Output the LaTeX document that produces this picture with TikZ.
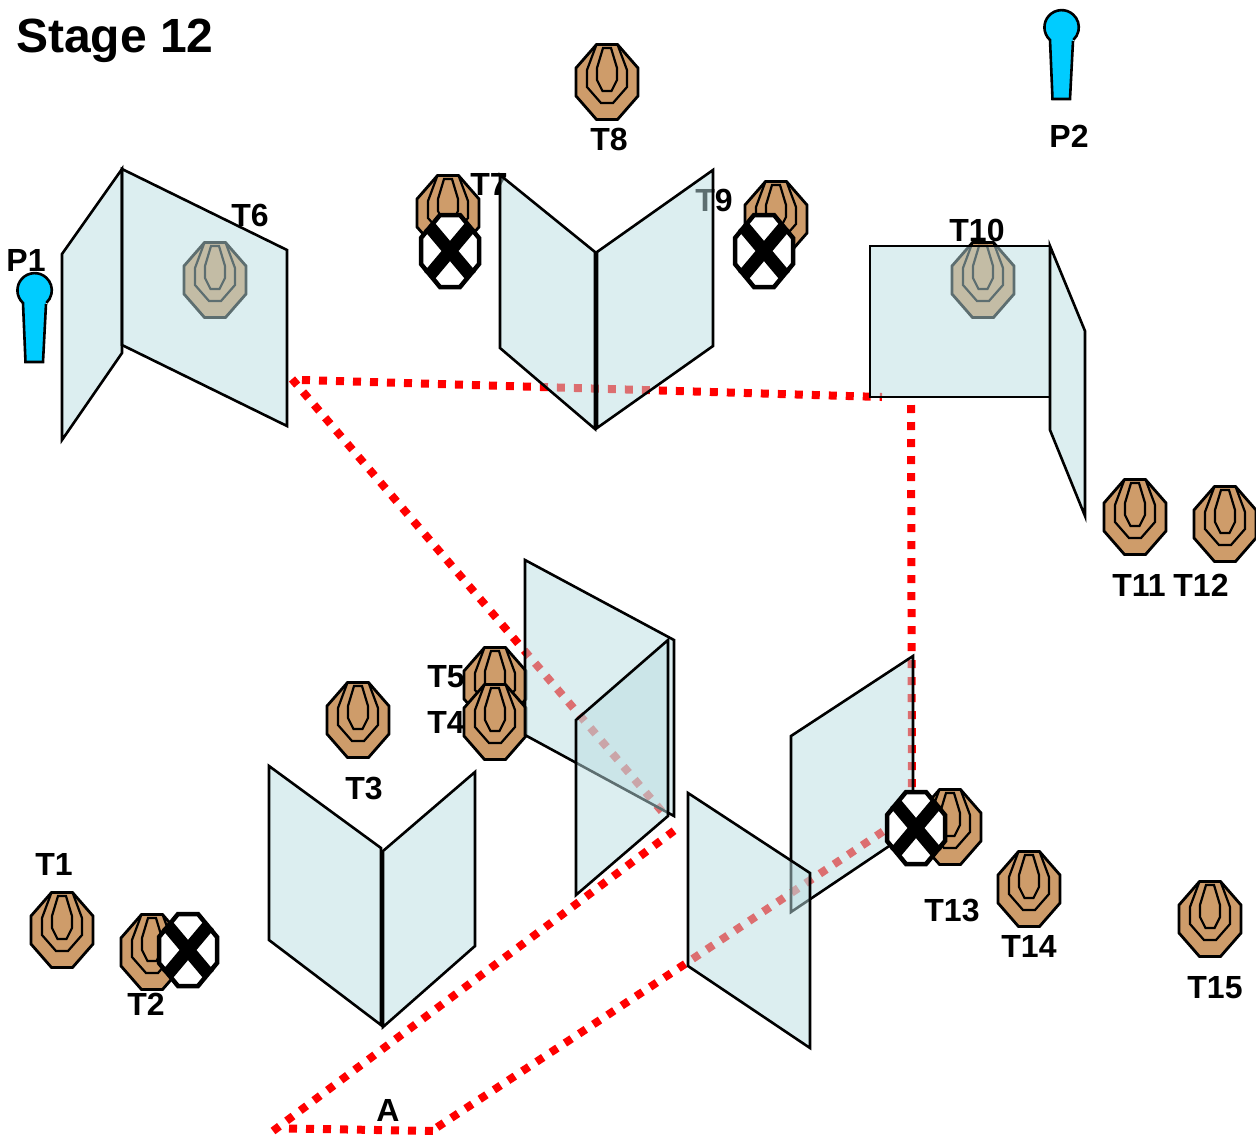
\documentclass[tikz,border=0pt]{standalone}
\usepackage{fontspec}
\setmainfont{Liberation Sans}
\definecolor{targetfill}{RGB}{206,156,106}
\definecolor{wallfill}{RGB}{186,221,225}
\definecolor{pawnfill}{RGB}{0,204,255}
\tikzset{
  lbl/.style={font=\fontsize{32}{32}\selectfont\bfseries, inner sep=0pt},
  title/.style={font=\fontsize{48}{48}\selectfont\bfseries, inner sep=0pt},
  wall/.style={draw=black, line width=2.6pt, line join=miter, fill=wallfill, fill opacity=0.5},
  route/.style={draw=red, line width=8pt, dash pattern=on 8pt off 9pt},
  target/.pic={
    \draw[line width=2.8pt, fill=targetfill] (-10.5,-37.5) -- (10.5,-37.5) -- (31,-14) -- (31,14) -- (10.5,37.5) -- (-10.5,37.5) -- (-31,14) -- (-31,-14) -- cycle;
    \draw[line width=2.2pt] (-10.5,-37.5) -- (-20,-12) -- (-20,5) -- (-6,21) -- (6,21) -- (20,5) -- (20,-12) -- (10.5,-37.5);
    \draw[line width=2.2pt] (-4,-34) -- (4,-34) -- (10,-14) -- (10,-2) -- (4.5,9) -- (-4.5,9) -- (-10,-2) -- (-10,-14) -- cycle;
  },
  noshoot/.pic={
    \draw[line width=4.5pt, fill=white] (-10,-36) -- (10,-36) -- (29,-13) -- (29,13) -- (10,36) -- (-10,36) -- (-29,13) -- (-29,-13) -- cycle;
    \draw[line width=13pt] (-21,-25) -- (21,25);
    \draw[line width=13pt] (21,-25) -- (-21,25);
  },
  pawn/.pic={
    \draw[line width=2.6pt, fill=pawnfill] (12,13) -- (9,71) -- (-8.5,71) -- (-11,12) arc[start angle=132.5, end angle=407, radius=17.2];
  }
}

\begin{document}
\begin{tikzpicture}[x=1pt, y=-1pt]
\useasboundingbox (0,0) rectangle (1256,1136);

\coordinate (r1) at (292,379);
\coordinate (r2) at (302,380);
\coordinate (r3) at (882,397);
\coordinate (r4) at (911,405);
\coordinate (r5) at (912,812);
\coordinate (r6) at (688,962);
\coordinate (r7) at (436,1128);
\coordinate (r8) at (289,1128.5);
\coordinate (r9) at (436,1131);
\coordinate (r10) at (273,1131);
\coordinate (r11) at (675,830);
\coordinate (r12) at (665,815);

\draw[route] (r2) -- (r3);
\draw[route] (r4) -- (r5) -- (r6) -- (r7);
\draw[route] (r8) -- (r9);
\draw[route] (r10) -- (r11);
\draw[route] (r1) -- (r12);

\node[title] (stage) at (115,41) {Stage 12};
\node[lbl] (p1) at (26,260) {P1};
\node[lbl] (p2) at (1069,136) {P2};
\node[lbl] (t1) at (54,864) {T1};
\node[lbl] (t2) at (146,1004) {T2};
\node[lbl] (t3) at (364,788) {T3};
\node[lbl] (t4) at (446,722) {T4};
\node[lbl] (t5) at (446,677) {T5};
\node[lbl] (t6) at (250,215) {T6};
\node[lbl] (t7) at (489,184) {T7};
\node[lbl] (t8) at (609,139) {T8};
\node[lbl] (t9) at (714,200) {T9};
\node[lbl] (t10) at (977,230) {T10};
\node[lbl] (t11) at (1139,585) {T11};
\node[lbl] (t12) at (1201,585) {T12};
\node[lbl] (t13) at (952,910) {T13};
\node[lbl] (t14) at (1029,946) {T14};
\node[lbl] (t15) at (1215,988) {T15};
\node[lbl] (a) at (388,1110) {A};

\pic at (34,291) {pawn};
\pic at (1061,28) {pawn};

\pic at (62,930) {target};
\pic at (152,952) {target};
\pic at (358,720) {target};
\pic at (495,685) {target};
\pic at (495,722) {target};
\pic at (215,280) {target};
\pic at (448,213) {target};
\pic at (607,82) {target};
\pic at (776,219) {target};
\pic at (983,280) {target};
\pic at (1135,517) {target};
\pic at (1225,524) {target};
\pic at (950,827) {target};
\pic at (1029,889) {target};
\pic at (1210,919) {target};

\draw[wall] (62,254) -- (122,169) -- (122,353) -- (62,440) -- cycle;
\draw[wall] (122,169) -- (287,250) -- (287,426) -- (122,345) -- cycle;
\draw[wall] (500,175) -- (595,252) -- (595,429) -- (500,348) -- cycle;
\draw[wall] (597,252) -- (713,170) -- (713,346) -- (597,428) -- cycle;
\draw[wall] (870,246) -- (1050,246) -- (1050,397) -- (870,397) -- cycle;
\draw[wall] (1050,246) -- (1085,331) -- (1085,516) -- (1050,430) -- cycle;
\draw[wall] (525,560) -- (674,640) -- (674,816) -- (525,735) -- cycle;
\draw[wall] (576,720) -- (668,640) -- (668,816) -- (576,895) -- cycle;
\draw[wall] (791,736) -- (913,656) -- (913,830) -- (791,912) -- cycle;
\draw[wall] (688,793) -- (810,873) -- (810,1048) -- (688,966) -- cycle;
\draw[wall] (269,766) -- (381,848) -- (381,1025) -- (269,940) -- cycle;
\draw[wall] (383,851) -- (475,772) -- (475,946) -- (383,1027) -- cycle;

\pic at (188,950) {noshoot};
\pic at (450,251) {noshoot};
\pic at (764,251) {noshoot};
\pic at (916,828) {noshoot};

\end{tikzpicture}
\end{document}
